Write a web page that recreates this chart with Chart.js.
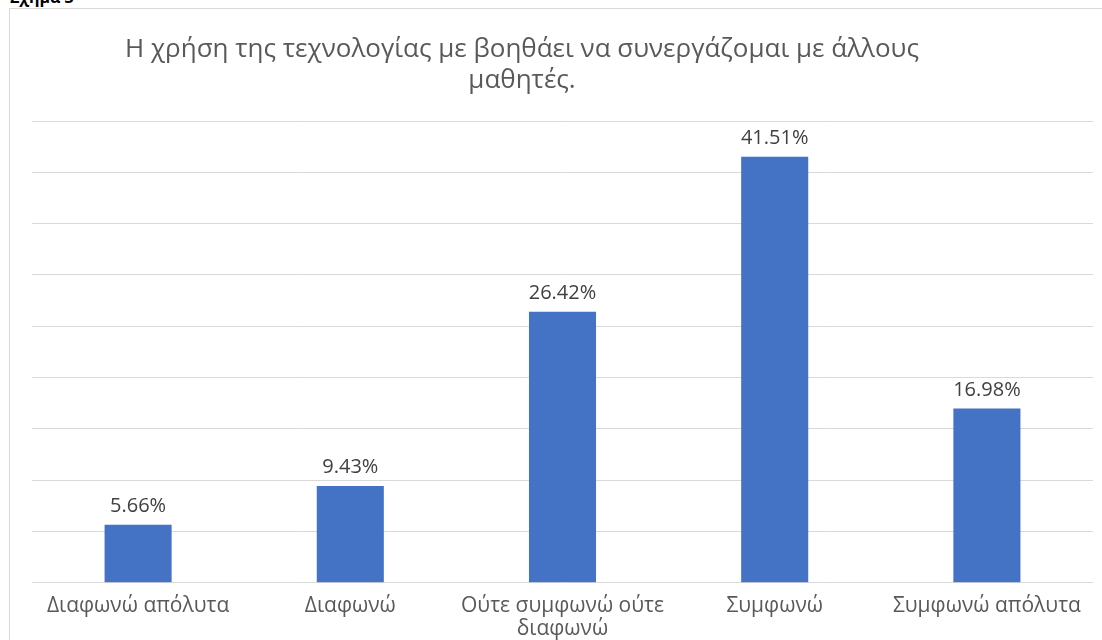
<!DOCTYPE html>
<html>
<head>
<meta charset="utf-8">
<script src="https://cdn.jsdelivr.net/npm/chart.js@4/dist/chart.umd.min.js"></script>
<style>
  html, body { margin: 0; padding: 0; background: #fff; overflow: hidden; height: 640px; }
  #cap { position: absolute; left: 10px; top: -14px; font: bold 16px "Open Sans", sans-serif; color: #000; }
  #box { position: absolute; left: 9px; top: 8px; width: 1100px; height: 680px;
         border-top: 1px solid #d9d9d9; border-left: 1px solid #d9d9d9; background: #fff; }
  #wrap { position: absolute; left: 0; top: 0; width: 1093px; height: 642px; }
</style>
</head>
<body>
<div id="cap">Σχήμα 3</div>
<div id="box"><div id="wrap"><canvas id="myChart"></canvas></div></div>
<script>
var titleLines = ['Η χρήση της τεχνολογίας με βοηθάει να συνεργάζομαι με άλλους', 'μαθητές.'];
var categories = ['Διαφωνώ απόλυτα', 'Διαφωνώ', ['Ούτε συμφωνώ ούτε', 'διαφωνώ'], 'Συμφωνώ', 'Συμφωνώ απόλυτα'];
var values = [5.66, 9.43, 26.42, 41.51, 16.98];
var valueLabels = ['5.66%', '9.43%', '26.42%', '41.51%', '16.98%'];

/* title + data labels */
var extras = {
    id: 'extras',
    afterDatasetsDraw: function (chart) {
        var c = chart.ctx;
        c.save();
        c.fillStyle = '#404040';
        c.font = '20px "Open Sans", sans-serif';
        c.textAlign = 'center';
        c.textBaseline = 'alphabetic';
        chart.getDatasetMeta(0).data.forEach(function (bar, i) {
            c.fillText(valueLabels[i], bar.x, bar.y - 13);
        });
        c.fillStyle = '#595959';
        c.font = '26px "Open Sans", sans-serif';
        c.fillText(titleLines[0], 512, 48);
        c.fillText(titleLines[1], 512, 79);
        c.restore();
    }
};

var ctx = document.getElementById('myChart').getContext('2d');
var myChart = new Chart(ctx, {
    type: 'bar',
    data: {
        labels: categories,
        datasets: [{
            data: values,
            backgroundColor: '#4472c4',
            barPercentage: 0.316,
            categoryPercentage: 1
        }]
    },
    options: {
        responsive: true,
        maintainAspectRatio: false,
        animation: false,
        layout: { padding: { left: 22, right: 10, top: 112, bottom: 6 } },
        plugins: { legend: { display: false }, tooltip: { enabled: false } },
        scales: {
            x: {
                grid: { display: false },
                border: { display: false },
                ticks: { color: '#595959', font: { size: 21, family: 'Open Sans', lineHeight: 1.1 }, padding: 4, maxRotation: 0 }
            },
            y: {
                min: 0, max: 45,
                ticks: { display: false, stepSize: 5 },
                grid: { color: '#d9d9d9', drawTicks: false },
                border: { display: false }
            }
        }
    },
    plugins: [extras]
});
</script>
</body>
</html>
